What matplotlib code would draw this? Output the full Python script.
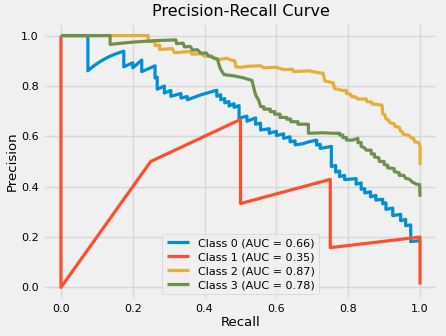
import matplotlib
matplotlib.use("Agg")
import matplotlib.pyplot as plt

# ---- data ----
class_labels = ["Class 0", "Class 1", "Class 2", "Class 3"]
auc_values = [0.66, 0.35, 0.87, 0.78]

recall_0 = [0.0, 0.075, 0.075, 0.09, 0.105, 0.12, 0.135, 0.15, 0.162, 0.175,
            0.175, 0.20, 0.20, 0.225, 0.225, 0.262, 0.262, 0.268, 0.268, 0.288,
            0.288, 0.306, 0.306, 0.334, 0.334, 0.352, 0.352, 0.39, 0.434, 0.434,
            0.445, 0.445, 0.456, 0.456, 0.468, 0.468, 0.482, 0.482, 0.496, 0.496,
            0.518, 0.518, 0.542, 0.542, 0.556, 0.556, 0.58, 0.58, 0.60, 0.60,
            0.62, 0.62, 0.638, 0.638, 0.652, 0.652, 0.672, 0.69, 0.712, 0.712,
            0.722, 0.722, 0.739, 0.753, 0.753, 0.765, 0.765, 0.776, 0.776, 0.79,
            0.79, 0.822, 0.822, 0.836, 0.836, 0.846, 0.846, 0.862, 0.862, 0.877,
            0.877, 0.896, 0.896, 0.905, 0.905, 0.924, 0.924, 0.946, 0.946, 0.96,
            0.96, 0.974, 0.974, 0.995, 1.0]
precision_0 = [1.0, 1.0, 0.86, 0.878, 0.893, 0.906, 0.917, 0.926, 0.932, 0.938,
               0.876, 0.892, 0.872, 0.903, 0.857, 0.88, 0.832, 0.835, 0.787, 0.80,
               0.772, 0.782, 0.759, 0.77, 0.752, 0.758, 0.745, 0.765, 0.783, 0.759,
               0.765, 0.745, 0.75, 0.733, 0.738, 0.72, 0.73, 0.715, 0.722, 0.672,
               0.68, 0.66, 0.673, 0.648, 0.652, 0.625, 0.63, 0.612, 0.62, 0.603,
               0.61, 0.592, 0.598, 0.578, 0.582, 0.566, 0.57, 0.578, 0.585, 0.565,
               0.568, 0.552, 0.556, 0.56, 0.48, 0.484, 0.458, 0.462, 0.44, 0.445,
               0.428, 0.432, 0.41, 0.415, 0.39, 0.392, 0.375, 0.38, 0.36, 0.365,
               0.347, 0.35, 0.332, 0.336, 0.31, 0.315, 0.285, 0.29, 0.265, 0.27,
               0.245, 0.248, 0.182, 0.185, 0.185]

recall_1 = [0.0, 0.0, 0.25, 0.5, 0.5, 0.75, 0.75, 1.0, 1.0]
precision_1 = [1.0, 0.0, 0.5, 0.667, 0.333, 0.429, 0.158, 0.2, 0.011]

recall_2 = [0.0, 0.243, 0.243, 0.262, 0.262, 0.275, 0.275, 0.31, 0.316, 0.36,
            0.365, 0.39, 0.40, 0.42, 0.427, 0.445, 0.463, 0.475, 0.484, 0.487,
            0.50, 0.52, 0.556, 0.565, 0.60, 0.62, 0.645, 0.648, 0.69, 0.72,
            0.73, 0.735, 0.758, 0.762, 0.785, 0.795, 0.795, 0.805, 0.81, 0.82,
            0.827, 0.85, 0.852, 0.865, 0.868, 0.894, 0.896, 0.902, 0.905, 0.912,
            0.915, 0.928, 0.93, 0.942, 0.946, 0.951, 0.953, 0.97, 0.975, 0.982,
            0.985, 0.996, 1.0, 1.0]
precision_2 = [1.0, 1.0, 0.976, 0.978, 0.96, 0.962, 0.945, 0.948, 0.932, 0.937,
               0.926, 0.928, 0.918, 0.92, 0.908, 0.906, 0.91, 0.902, 0.9, 0.876,
               0.874, 0.878, 0.88, 0.872, 0.874, 0.865, 0.866, 0.857, 0.86, 0.852,
               0.85, 0.82, 0.812, 0.79, 0.782, 0.782, 0.77, 0.768, 0.758, 0.756,
               0.748, 0.748, 0.738, 0.736, 0.728, 0.724, 0.69, 0.685, 0.67, 0.665,
               0.655, 0.65, 0.64, 0.636, 0.62, 0.618, 0.608, 0.604, 0.594, 0.592,
               0.578, 0.576, 0.56, 0.486]

recall_3 = [0.0, 0.137, 0.137, 0.17, 0.2, 0.24, 0.28, 0.32, 0.322, 0.34,
            0.344, 0.36, 0.367, 0.38, 0.39, 0.405, 0.41, 0.425, 0.436, 0.44,
            0.445, 0.454, 0.482, 0.509, 0.532, 0.537, 0.542, 0.551, 0.556, 0.565,
            0.565, 0.583, 0.583, 0.595, 0.595, 0.61, 0.61, 0.629, 0.629, 0.64,
            0.64, 0.66, 0.66, 0.689, 0.689, 0.73, 0.758, 0.776, 0.776, 0.785,
            0.785, 0.795, 0.795, 0.812, 0.827, 0.827, 0.836, 0.836, 0.845, 0.85,
            0.864, 0.864, 0.873, 0.873, 0.885, 0.887, 0.9, 0.9, 0.91, 0.91,
            0.928, 0.928, 0.942, 0.942, 0.955, 0.96, 0.97, 0.979, 0.99, 0.999,
            1.0]
precision_3 = [1.0, 1.0, 0.965, 0.97, 0.974, 0.978, 0.981, 0.983, 0.968, 0.97,
               0.955, 0.957, 0.942, 0.944, 0.93, 0.931, 0.92, 0.912, 0.906, 0.885,
               0.865, 0.845, 0.84, 0.832, 0.822, 0.792, 0.765, 0.742, 0.718, 0.718,
               0.708, 0.708, 0.698, 0.698, 0.688, 0.688, 0.675, 0.675, 0.668, 0.668,
               0.658, 0.658, 0.648, 0.648, 0.612, 0.614, 0.612, 0.612, 0.605, 0.605,
               0.595, 0.595, 0.585, 0.585, 0.592, 0.575, 0.575, 0.56, 0.555, 0.545,
               0.545, 0.53, 0.53, 0.518, 0.515, 0.5, 0.5, 0.488, 0.485, 0.475,
               0.472, 0.46, 0.455, 0.445, 0.445, 0.433, 0.43, 0.418, 0.41, 0.408,
               0.36]

recalls = [recall_0, recall_1, recall_2, recall_3]
precisions = [precision_0, precision_1, precision_2, precision_3]

# ---- style ----
plt.style.use("fivethirtyeight")
colors = ["#008fd5", "#fc4f30", "#e5ae38", "#6d904f"]

fig = plt.figure(figsize=(4.46, 3.36), dpi=100)
ax = fig.add_axes([43 / 446, 36 / 336, 395 / 446, 277 / 336])

for rec, prec, lab, auc, col in zip(recalls, precisions, class_labels, auc_values, colors):
    ax.plot(rec, prec, color=col, linewidth=2.3, label=f"{lab} (AUC = {auc:.2f})")

ax.set_title("Precision-Recall Curve", fontsize=11.5, pad=5)
ax.set_xlabel("Recall", fontsize=9.5, labelpad=1)
ax.set_ylabel("Precision", fontsize=9.5, labelpad=2)
ax.tick_params(axis="both", labelsize=8, pad=3)
ax.set_xticks([0.0, 0.2, 0.4, 0.6, 0.8, 1.0])
ax.set_yticks([0.0, 0.2, 0.4, 0.6, 0.8, 1.0])
ax.grid(True, color="#d8d8d8", linewidth=1.0)

leg = ax.legend(loc="lower center", fontsize=8, handlelength=2.0,
                borderpad=0.4, labelspacing=0.35)

fig.savefig("out.png", dpi=100, facecolor="#f0f0f0")
